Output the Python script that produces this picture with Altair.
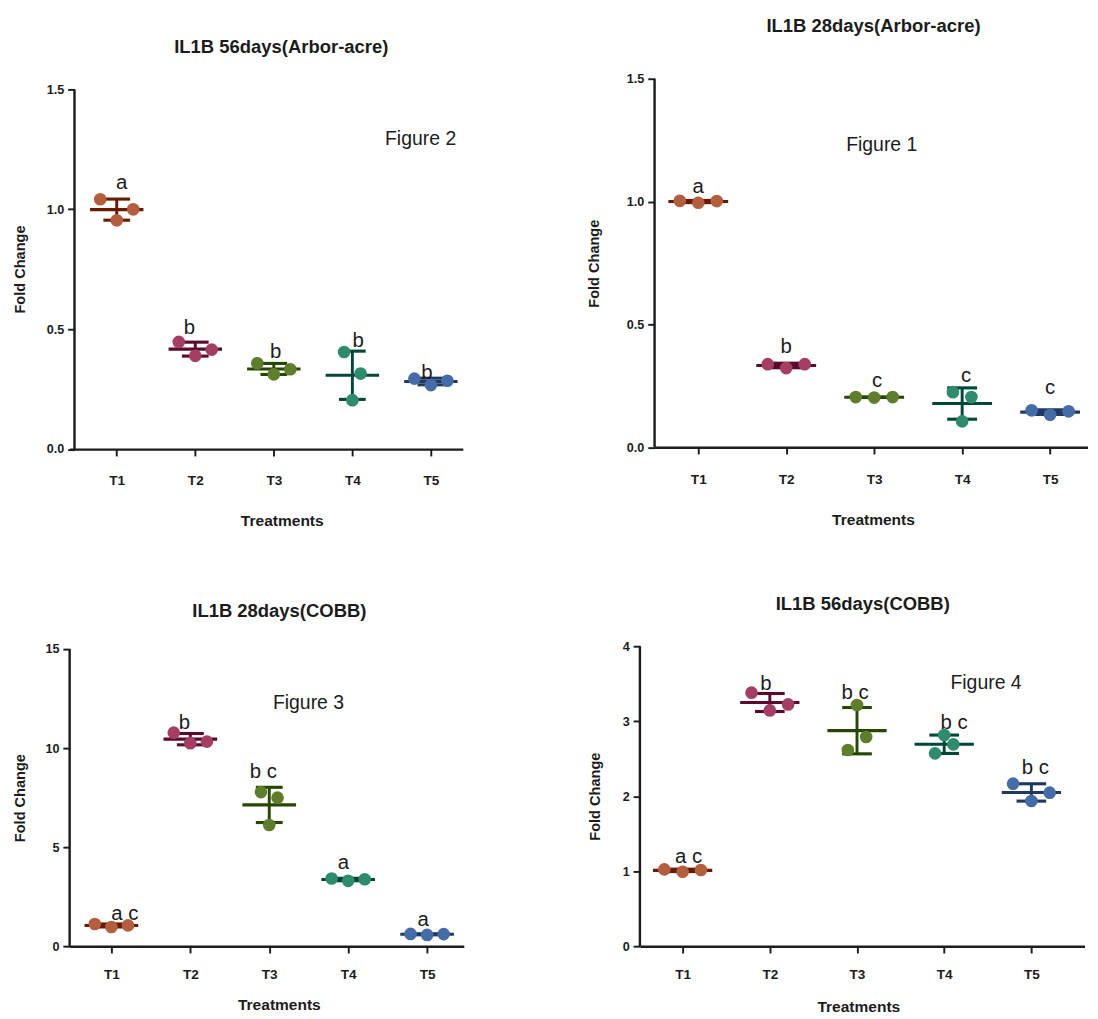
import altair as alt
import pandas as pd

treatments = ["T1", "T2", "T3", "T4", "T5"]

point_colors = ["#B35E3F", "#A53E64", "#5F7E2D", "#2F8B6E", "#466CA8"]
line_colors = ["#6A1A00", "#5A0A2E", "#264700", "#00473A", "#1F3A61"]

# replicate values per treatment, listed left / centre / right as drawn
fig2_vals = [[1.042, 0.954, 1.000], [0.447, 0.389, 0.415], [0.358, 0.312, 0.333],
             [0.405, 0.204, 0.315], [0.294, 0.267, 0.285]]
fig1_vals = [[1.003, 0.995, 1.002], [0.338, 0.322, 0.338], [0.204, 0.202, 0.204],
             [0.224, 0.105, 0.204], [0.150, 0.132, 0.146]]
fig3_vals = [[1.12, 0.97, 1.05], [10.78, 10.25, 10.33], [7.78, 6.12, 7.50],
             [3.42, 3.30, 3.38], [0.62, 0.57, 0.61]]
fig4_vals = [[1.024, 0.993, 1.016], [3.380, 3.144, 3.224], [2.616, 3.216, 2.789],
             [2.571, 2.816, 2.691], [2.167, 1.936, 2.047]]

# significance letters: text, x (treatment units) and baseline height (data units)
fig2_letters = ["a", "b", "b", "b", "b"]
fig2_letter_x = [1.063, 1.925, 3.025, 4.075, 4.95]
fig2_letter_y = [1.083, 0.482, 0.379, 0.426, 0.294]
fig1_letters = ["a", "b", "c", "c", "c"]
fig1_letter_x = [1.0, 2.0, 3.033, 4.045, 5.0]
fig1_letter_y = [1.035, 0.383, 0.244, 0.265, 0.217]
fig3_letters = ["a c", "b", "b c", "a", "a"]
fig3_letter_x = [1.17, 1.925, 2.925, 3.94, 4.95]
fig3_letter_y = [1.34, 10.95, 8.49, 3.88, 1.00]
fig4_letters = ["a c", "b", "b c", "b c", "b c"]
fig4_letter_x = [1.068, 1.955, 2.977, 4.113, 5.045]
fig4_letter_y = [1.11, 3.42, 3.29, 2.90, 2.30]

# treatments whose points are spread narrowly (vertically separated)
fig2_narrow = [4]
fig1_narrow = [4]
fig3_narrow = [3]
fig4_narrow = [3, 4]

WIDE, NARROW = 0.21, 0.105
INK = "#1c1c1c"
FONT = "Liberation Sans"


def make_panel(vals, narrow, letters, letter_x, letter_y, fig_text, fig_x, fig_y, title,
               yticks, yfmt, ymax, xdomain, yaxis_x, width, height, title_offset, title_dx,
               yaxis_offset, ytitle_x, ytitle_y, xtitle_x, xtitle_y, xlabel_pad):
    rows = []
    for i, reps in enumerate(vals):
        for slot, v in zip((-1, 0, 1), reps):
            rows.append({"t": i + 1, "slot": slot, "value": v,
                         "spread": NARROW if (i + 1) in narrow else WIDE})
    df = pd.DataFrame(rows)

    xscale = alt.Scale(domain=xdomain, nice=False, zero=False)
    yscale = alt.Scale(domain=[0, ymax], nice=False, zero=False)
    xaxis = alt.Axis(values=[1, 2, 3, 4, 5], labelExpr="'T' + datum.value",
                     title="Treatments", titleX=xtitle_x, titleY=xtitle_y,
                     titleBaseline="middle", titleAlign="center",
                     labelPadding=xlabel_pad)
    yaxis = alt.Axis(values=yticks, format=yfmt, title="Fold Change", domain=False,
                     offset=yaxis_offset,
                     titleX=ytitle_x, titleY=ytitle_y, titleAngle=270,
                     titleAlign="center", titleBaseline="middle")

    def X(f):
        return alt.X(f, type="quantitative", scale=xscale, axis=xaxis)

    def Y(f):
        return alt.Y(f, type="quantitative", scale=yscale, axis=yaxis)

    stroke = alt.Stroke("t:N", scale=alt.Scale(domain=[1, 2, 3, 4, 5], range=line_colors),
                        legend=None)
    fill = alt.Fill("t:N", scale=alt.Scale(domain=[1, 2, 3, 4, 5], range=point_colors),
                    legend=None)

    base = alt.Chart(df)
    stats = base.transform_aggregate(
        m="mean(value)", s="stdev(value)", groupby=["t"]
    ).transform_calculate(
        lo="datum.m - datum.s", hi="datum.m + datum.s",
        ml="datum.t - 0.34", mr="datum.t + 0.34",
        cl="datum.t - 0.17", cr="datum.t + 0.17",
    )
    mean_rule = stats.mark_rule(strokeWidth=3.2).encode(
        x=X("ml"), x2="mr", y=Y("m"), stroke=stroke)
    sd_rule = stats.mark_rule(strokeWidth=3).encode(
        x=X("t"), y=Y("lo"), y2="hi", stroke=stroke)
    cap_hi = stats.mark_rule(strokeWidth=3.2).encode(
        x=X("cl"), x2="cr", y=Y("hi"), stroke=stroke)
    cap_lo = stats.mark_rule(strokeWidth=3.2).encode(
        x=X("cl"), x2="cr", y=Y("lo"), stroke=stroke)
    points = base.transform_calculate(
        xp="datum.t + datum.slot * datum.spread"
    ).mark_circle(size=170, opacity=1).encode(x=X("xp"), y=Y("value"), fill=fill)

    ldf = pd.DataFrame({"lx": letter_x, "letter": letters, "ly": letter_y})
    letter_layer = alt.Chart(ldf).mark_text(
        baseline="alphabetic", align="center", fontSize=21, font=FONT, color=INK
    ).encode(x=X("lx"), y=Y("ly"), text="letter:N")

    fdf = pd.DataFrame({"fx": [fig_x], "fy": [fig_y], "label": [fig_text]})
    fig_layer = alt.Chart(fdf).mark_text(
        baseline="middle", align="center", fontSize=20, font=FONT, color=INK
    ).encode(x=X("fx"), y=Y("fy"), text="label:N")

    adf = pd.DataFrame({"x0": [yaxis_x], "y0": [0.0], "y1": [yticks[-1]]})
    yline = alt.Chart(adf).mark_rule(strokeWidth=2.5, color=INK).encode(
        x=X("x0"), y=Y("y0"), y2="y1")

    return alt.layer(mean_rule, sd_rule, cap_hi, cap_lo, points, letter_layer,
                     fig_layer, yline).properties(
        width=width, height=height,
        title=alt.TitleParams(title, offset=title_offset, anchor="middle", dx=title_dx),
    )


p1 = make_panel(fig2_vals, fig2_narrow, fig2_letters, fig2_letter_x, fig2_letter_y,
                "Figure 2", 4.869, 1.294,
                "IL1B 56days(Arbor-acre)", [0, 0.5, 1.0, 1.5], ".1f", 1.5445,
                [0.4005, 5.4067], 0.4623, 405, 381.5,
                22.5, 15.5, -5, -57, 196, 218.5, 73.5, 18.5)
p2 = make_panel(fig1_vals, fig1_narrow, fig1_letters, fig1_letter_x, fig1_letter_y,
                "Figure 1", 3.086, 1.228,
                "IL1B 28days(Arbor-acre)", [0, 0.5, 1.0, 1.5], ".1f", 1.5,
                [0.5033, 5.426], 0.5033, 446, 379.5,
                38.5, 2.5, 0, -63, 190, 225, 74.2, 19.5)
p3 = make_panel(fig3_vals, fig3_narrow, fig3_letters, fig3_letter_x, fig3_letter_y,
                "Figure 3", 3.497, 12.28,
                "IL1B 28days(COBB)", [0, 5, 10, 15], "d", 15.147,
                [0.4711, 5.465], 0.4711, 406, 309,
                23, 13, 0, -52, 156, 215.5, 60, 15.5)
p4 = make_panel(fig4_vals, fig4_narrow, fig4_letters, fig4_letter_x, fig4_letter_y,
                "Figure 4", 4.48, 3.51,
                "IL1B 56days(COBB)", [0, 1, 2, 3, 4], "d", 4,
                [0.51, 5.61], 0.51, 458, 309,
                27.5, 0.5, 0, -47, 154.5, 225, 62, 15.5)

row1 = alt.hconcat(p1, p2, spacing=127.5)
row2 = alt.hconcat(p3, p4, spacing=127.4)

chart = alt.vconcat(row1, row2, spacing=68.5).properties(
    padding={"left": 4.5, "top": -6.5, "right": 2, "bottom": 2}
).configure_view(stroke=None).configure_axis(
    grid=False, domainColor=INK, domainWidth=2.5, tickColor=INK, tickWidth=2,
    tickSize=7, labelFont=FONT, labelFontWeight="bold", labelColor=INK,
    titleFont=FONT, titleFontWeight="bold", titleColor=INK,
).configure_axisX(labelFontSize=14, titleFontSize=16).configure_axisY(
    labelFontSize=13, labelPadding=4, titleFontSize=15
).configure_title(font=FONT, fontSize=19, fontWeight="bold", color=INK)

chart.save("out.html", embed_options={"renderer": "svg", "actions": False})
